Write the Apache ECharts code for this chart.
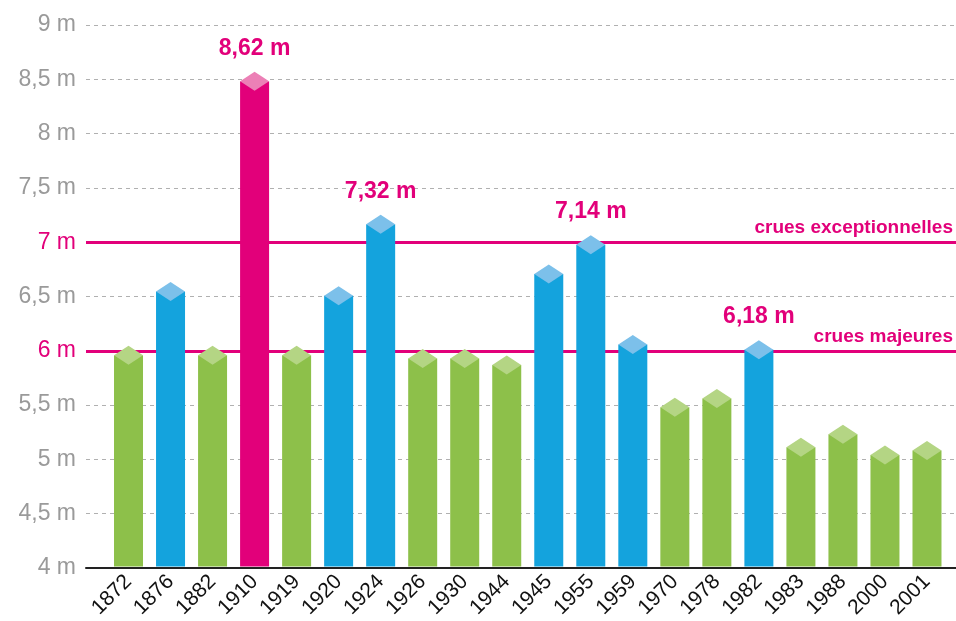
<!DOCTYPE html>
<html>
<head>
<meta charset="utf-8">
<script src="https://cdn.jsdelivr.net/npm/echarts@6/dist/echarts.min.js"></script>
<style>
html, body { margin: 0; padding: 0; background: #fff; }
#myCanvas { width: 956px; height: 621px; }
</style>
</head>
<body>
<div id="myCanvas"></div>
<script>
// crues de la Seine
var years = ['1872','1876','1882','1910','1919','1920','1924','1926','1930','1944',
             '1945','1955','1959','1970','1978','1982','1983','1988','2000','2001'];
var heights = [5.95, 6.54, 5.95, 8.48, 5.95, 6.50, 7.16, 5.92, 5.92, 5.86,
               6.70, 6.97, 6.05, 5.47, 5.55, 6.00, 5.10, 5.22, 5.03, 5.07];
var kinds = ['g','b','g','m','g','b','b','g','g','g',
             'b','b','b','g','g','b','g','g','g','g'];
var peakLabels = ['','','','8,62 m','','','7,32 m','','','',
                  '','7,14 m','','','','6,18 m','','','',''];
var thresholdValues = [7, 6];
var thresholdNames = ['crues exceptionnelles', 'crues majeures'];

var MAGENTA = '#e2007a';
var bodyColor = { g: '#8dc04a', b: '#14a3dd', m: '#e2007a' };
var capColor = { g: '#b4d584', b: '#7cc0ea', m: '#ec80b6' };
var FONT = '"Liberation Sans", Arial, sans-serif';

var myChart = echarts.init(document.getElementById('myCanvas'));

var option = {
    animation: false,
    grid: [
        { left: 107.5, right: 8, top: 25, bottom: 53 },
        { left: 86, right: 0, top: 25, bottom: 53 }
    ],
    xAxis: [
        {
            type: 'category',
            gridIndex: 0,
            data: years,
            axisLine: { show: false },
            axisTick: { show: false },
            axisLabel: {
                rotate: 45,
                margin: 12,
                color: '#111',
                fontSize: 21,
                fontFamily: FONT
            }
        },
        {
            type: 'value',
            gridIndex: 1,
            min: 0,
            max: 1,
            axisLine: { show: true, lineStyle: { color: '#222', width: 2 } },
            axisTick: { show: false },
            axisLabel: { show: false },
            splitLine: { show: false }
        }
    ],
    yAxis: [
        {
            type: 'value',
            gridIndex: 0,
            min: 4,
            max: 9,
            show: false
        },
        {
            type: 'value',
            gridIndex: 1,
            min: 4,
            max: 9,
            interval: 0.5,
            axisLine: { show: false },
            axisTick: { show: false },
            axisLabel: {
                margin: 10,
                fontSize: 23,
                fontFamily: FONT,
                color: function (v) {
                    return thresholdValues.indexOf(Number(v)) >= 0 ? MAGENTA : '#9a9a9a';
                },
                formatter: function (v) {
                    return String(v).replace('.', ',') + ' m';
                }
            },
            splitLine: {
                show: true,
                lineStyle: { color: '#b0b0b0', type: [4, 4], width: 1 }
            }
        }
    ],
    series: [
        {
            type: 'line',
            xAxisIndex: 1,
            yAxisIndex: 1,
            data: [],
            z: 1,
            markLine: {
                silent: true,
                z: 1,
                symbol: 'none',
                lineStyle: { color: MAGENTA, width: 3, type: 'solid' },
                label: {
                    position: 'insideEndTop',
                    distance: [3, 5],
                    color: MAGENTA,
                    fontSize: 19,
                    fontWeight: 'bold',
                    fontFamily: FONT,
                    formatter: function (p) { return p.name; }
                },
                data: thresholdValues.map(function (v, i) {
                    return { yAxis: v, name: thresholdNames[i] };
                })
            }
        },
        {
            type: 'custom',
            xAxisIndex: 0,
            yAxisIndex: 0,
            z: 10,
            data: heights.map(function (v, i) { return [i, v]; }),
            renderItem: function (params, api) {
                var i = api.value(0);
                var top = api.coord([i, api.value(1)]);
                var base = api.coord([i, 4]);
                var w = api.size([1, 0])[0] * 0.69;
                var h = 9.5;
                var cx = top[0], y = top[1];
                var k = kinds[i];
                var children = [
                    {
                        type: 'rect',
                        shape: { x: cx - w / 2, y: y, width: w, height: base[1] - y },
                        style: { fill: bodyColor[k] }
                    },
                    {
                        type: 'polygon',
                        shape: { points: [[cx, y - h], [cx + w / 2, y], [cx, y + h], [cx - w / 2, y]] },
                        style: { fill: capColor[k] }
                    }
                ];
                if (peakLabels[i]) {
                    children.push({
                        type: 'text',
                        style: {
                            text: peakLabels[i],
                            x: cx,
                            y: y - 33,
                            align: 'center',
                            verticalAlign: 'middle',
                            fill: MAGENTA,
                            fontSize: 23,
                            fontWeight: 'bold',
                            fontFamily: FONT
                        }
                    });
                }
                return { type: 'group', children: children };
            }
        }
    ]
};

myChart.setOption(option);
</script>
</body>
</html>
